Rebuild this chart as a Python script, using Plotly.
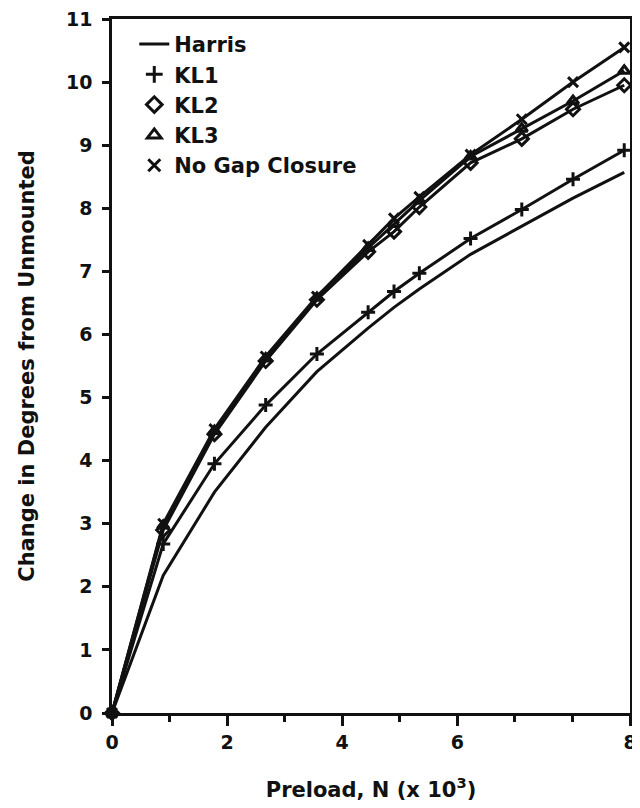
import plotly.graph_objects as go

# Preload (x 10^3 N) at which each model was evaluated
preload = [0, 0.89, 1.78, 2.67, 3.56, 4.45, 4.9, 5.34, 6.23, 7.12, 8.01, 8.9]

harris = [0, 2.18, 3.50, 4.53, 5.41, 6.10, 6.43, 6.72, 7.27, 7.71, 8.16, 8.57]
kl1 = [0, 2.68, 3.95, 4.88, 5.69, 6.35, 6.68, 6.97, 7.52, 7.98, 8.46, 8.92]
kl2 = [0, 2.90, 4.42, 5.58, 6.55, 7.31, 7.63, 8.02, 8.72, 9.10, 9.57, 9.95]
kl3 = [0, 2.97, 4.47, 5.62, 6.58, 7.37, 7.75, 8.12, 8.82, 9.26, 9.70, 10.18]
no_gap = [0, 3.00, 4.50, 5.65, 6.60, 7.42, 7.84, 8.18, 8.85, 9.41, 10.00, 10.55]

x_tick_vals = [0, 2, 4, 6, 9]
x_tick_text = ["0", "2", "4", "6", "8"]
x_minor_vals = [1, 3, 5, 7, 8]
y_tick_vals = list(range(0, 12))

FONT = "DejaVu Sans, Verdana, sans-serif"
BLACK = "#111111"

series = [
    ("KL1", kl1, "cross-thin"),
    ("KL2", kl2, "diamond-open"),
    ("KL3", kl3, "triangle-up-open"),
    ("No Gap Closure", no_gap, "x-thin"),
]

fig = go.Figure()

fig.add_trace(go.Scatter(
    x=preload, y=harris, mode="lines", name="Harris",
    line=dict(color=BLACK, width=3), cliponaxis=False,
))

for name, vals, sym in series:
    fig.add_trace(go.Scatter(
        x=preload, y=vals, mode="lines+markers", name=name, showlegend=False,
        line=dict(color=BLACK, width=3),
        marker=dict(symbol=sym, size=10, color=BLACK, line=dict(color=BLACK, width=3)),
        cliponaxis=False,
    ))
    # legend-only entry showing just the symbol
    fig.add_trace(go.Scatter(
        x=[None], y=[None], mode="markers", name=name,
        marker=dict(symbol=sym, size=12, color=BLACK, line=dict(color=BLACK, width=3)),
    ))

# the page body adds an 8px offset, so the figure is 8px smaller than the window
fig.update_layout(
    template="none",
    width=632, height=800,
    margin=dict(l=104, r=10, t=11, b=95),
    paper_bgcolor="white", plot_bgcolor="white",
    font=dict(family=FONT, size=19, color=BLACK, weight="bold"),
    showlegend=True,
    legend=dict(
        x=0.043, y=0.993, xanchor="left", yanchor="top",
        bgcolor="rgba(0,0,0,0)", borderwidth=0,
        font=dict(family=FONT, size=21, color=BLACK, weight="bold"),
        itemwidth=30, tracegroupgap=0,
    ),
    xaxis=dict(
        range=[0, 9], showgrid=False, zeroline=False, automargin=False,
        showline=True, linecolor=BLACK, linewidth=2.5, mirror=True,
        ticks="outside", ticklen=10, tickwidth=2.5, tickcolor=BLACK,
        tickmode="array", tickvals=x_tick_vals, ticktext=x_tick_text,
        ticklabeloverflow="allow",
        minor=dict(tickmode="array", tickvals=x_minor_vals, ticks="outside",
                   ticklen=6, tickwidth=2.5, tickcolor=BLACK),
        tickfont=dict(family=FONT, size=19, color=BLACK, weight="bold"),
        title=dict(text="Preload, N (x 10<sup>3</sup>)", standoff=31,
                   font=dict(family=FONT, size=21, color=BLACK, weight="bold")),
    ),
    yaxis=dict(
        range=[0, 11], showgrid=False, zeroline=False, automargin=False,
        showline=True, linecolor=BLACK, linewidth=2.5, mirror=True,
        ticks="outside", ticklen=7, tickwidth=2.5, tickcolor=BLACK,
        ticklabelstandoff=6, ticklabeloverflow="allow",
        tickmode="array", tickvals=y_tick_vals,
        tickfont=dict(family=FONT, size=19, color=BLACK, weight="bold"),
        title=dict(text="Change in Degrees from Unmounted", standoff=26,
                   font=dict(family=FONT, size=21, color=BLACK, weight="bold")),
    ),
)

fig.write_html("out.html")
